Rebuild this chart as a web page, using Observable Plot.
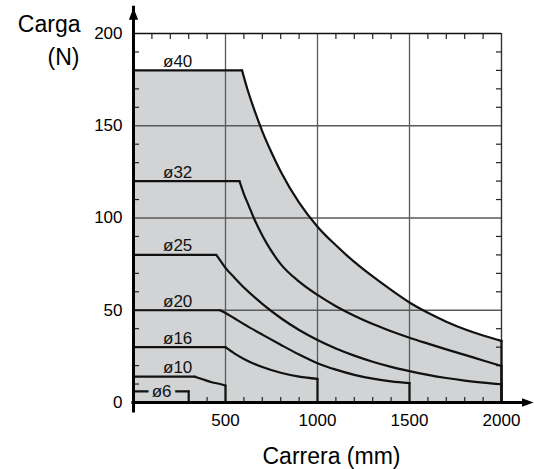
<!DOCTYPE html>
<html>
<head>
<meta charset="utf-8">
<script src="https://cdn.jsdelivr.net/npm/d3@7"></script>
<script src="https://cdn.jsdelivr.net/npm/@observablehq/plot@0.6"></script>
<style>
html,body{margin:0;padding:0;background:#fff;overflow:hidden}
</style>
</head>
<body>
<div id="chart"></div>
<script>
// Series names
const labels = ["ø40", "ø32", "ø25", "ø20", "ø16", "ø10", "ø6"];

// Carrera (mm) and Carga (N), per bore
// (first point = start of flat part, second = knee, last = vertical drop to 0)
const x40 = [0, 590, 620, 650, 700, 750, 800, 900, 1000, 1100, 1200, 1300, 1400, 1500, 1600, 1700, 1800, 1900, 2000, 2000];
const y40 = [180, 180, 169.5, 160.5, 147, 135.5, 125.2, 108.3, 95.3, 85.2, 76.2, 68.3, 61, 54.2, 48.6, 43.8, 39.7, 36.3, 33.4, 0];

const x32 = [0, 576, 600, 625, 654, 700, 750, 800, 900, 1000, 1100, 1200, 1300, 1400, 1500, 1600, 1700, 1800, 1900, 2000, 2000];
const y32 = [120, 120, 113, 107, 100, 90.5, 82, 75, 65.5, 58.3, 52.2, 47, 42.5, 38.6, 35.1, 31.9, 28.8, 25.8, 22.8, 19.8, 0];

const x25 = [0, 450, 475, 500, 550, 600, 700, 800, 900, 1000, 1100, 1200, 1300, 1400, 1500, 1600, 1700, 1800, 1900, 2000, 2000];
const y25 = [80, 80, 76.5, 73, 67.5, 62.3, 53.5, 45.8, 39.3, 33.9, 29.3, 25.4, 22.1, 19.3, 17, 15, 13.3, 11.9, 10.8, 9.9, 0];

const x20 = [0, 470, 500, 550, 600, 700, 800, 900, 1000, 1100, 1200, 1300, 1400, 1500, 1500];
const y20 = [50, 50, 48.5, 45.5, 42.5, 36.8, 31.3, 26, 21.3, 17.8, 15, 12.9, 11.4, 10.5, 0];

const x16 = [0, 500, 550, 600, 700, 800, 900, 1000, 1000];
const y16 = [30, 30, 26.5, 23.6, 19.2, 16.1, 14, 12.8, 0];

const x10 = [0, 333, 375, 425, 475, 500, 500];
const y10 = [14, 14, 12.6, 11, 9.9, 9.2, 0];

const x6 = [0, 300, 300];
const y6 = [6, 6, 0];

// Axis ticks and grid
const xTicks = [500, 1000, 1500, 2000];
const yTicks = [0, 50, 100, 150, 200];
const xGrid = [500, 1000, 1500];
const yGrid = [50, 100, 150];
const topMinor = [100, 200, 300, 400, 600, 700, 800, 900, 1100, 1200, 1300, 1400, 1600, 1700, 1800, 1900];
const bottomMinor = [400, 600, 700, 800, 900, 1100, 1200, 1300, 1400, 1600, 1700, 1800, 1900];
const sideMinor = [10, 20, 30, 40, 60, 70, 80, 90, 110, 120, 130, 140, 160, 170, 180, 190];
const xAxisEnd = [2174];
const yAxisEnd = [214];

const xs = [x40, x32, x25, x20, x16, x10, x6];
const ys = [y40, y32, y25, y20, y16, y10, y6];

// straight pieces: flat part and the final vertical drop
const straightRows = labels.flatMap((name, i) => {
  const X = xs[i], Y = ys[i], n = X.length;
  return [
    {g: name + "-flat", x: X[0], y: Y[0]}, {g: name + "-flat", x: X[1], y: Y[1]},
    {g: name + "-drop", x: X[n - 2], y: Y[n - 2]}, {g: name + "-drop", x: X[n - 1], y: Y[n - 1]}
  ];
});
// curved pieces: from knee to the last point before the drop
const curveRows = labels.flatMap((name, i) => {
  const X = xs[i], Y = ys[i], n = X.length;
  const out = [];
  for (let j = 1; j <= n - 2; ++j) out.push({g: name, x: X[j], y: Y[j]});
  return out.length > 1 ? out : [];
});
const flatEnv = [{x: x40[0], y: y40[0]}, {x: x40[1], y: y40[1]}];
const curveEnv = x40.slice(1, -1).map((x, j) => ({x, y: y40[j + 1]}));

const labelRows = labels.map((name, i) => ({name, level: ys[i][0]}));
const upperLabels = labelRows.filter(d => d.name !== "ø6");
const smallLabel = labelRows.filter(d => d.name === "ø6");

const FILL = "#d1d3d4";
const GRID = "#5a5a5a";

const tickDown = {draw(c) { c.moveTo(0, 0); c.lineTo(0, 5.5); }};
const tickUp = {draw(c) { c.moveTo(0, 0); c.lineTo(0, -5.5); }};
const tickRight = {draw(c) { c.moveTo(0, 0); c.lineTo(5.5, 0); }};
const tickLeft = {draw(c) { c.moveTo(0, 0); c.lineTo(-5.5, 0); }};
const arrowUp = {draw(c) { c.moveTo(0, 0); c.lineTo(4.6, 12); c.lineTo(-4.6, 12); c.closePath(); }};
const arrowRight = {draw(c) { c.moveTo(0, 0); c.lineTo(-11.5, -4.3); c.lineTo(-11.5, 4.3); c.closePath(); }};

const chart = Plot.plot({
  width: 534,
  height: 469,
  marginLeft: 133,
  marginRight: 33,
  marginTop: 33,
  marginBottom: 67,
  style: {fontFamily: "'Liberation Sans', Arial, Helvetica, sans-serif", fontSize: "17px", background: "#fff", color: "#000"},
  x: {domain: [0, 2000]},
  y: {domain: [0, 200]},
  marks: [
    Plot.areaY(flatEnv, {x: "x", y: "y", fill: FILL, shapeRendering: "crispEdges"}),
    Plot.areaY(curveEnv, {x: "x", y: "y", fill: FILL, curve: "monotone-x", shapeRendering: "crispEdges"}),
    Plot.ruleX(xGrid, {stroke: GRID, strokeWidth: 1.3}),
    Plot.ruleY(yGrid, {stroke: GRID, strokeWidth: 1.3}),
    Plot.ruleY([200], {stroke: "#111", strokeWidth: 1.5}),
    Plot.ruleX([2000], {stroke: "#333", strokeWidth: 1.4}),
    Plot.dot(topMinor, {x: d => d, y: 200, r: 3, symbol: tickDown, fill: "none", stroke: "#222", strokeWidth: 1.2}),
    Plot.dot(bottomMinor, {x: d => d, y: 0, r: 3, symbol: tickUp, fill: "none", stroke: "#222", strokeWidth: 1.2}),
    Plot.dot(sideMinor, {x: 0, y: d => d, r: 3, symbol: tickRight, fill: "none", stroke: "#222", strokeWidth: 1.2}),
    Plot.dot(sideMinor, {x: 2000, y: d => d, r: 3, symbol: tickLeft, fill: "none", stroke: "#222", strokeWidth: 1.2}),
    Plot.line(straightRows, {x: "x", y: "y", z: "g", stroke: "#111", strokeWidth: 2.2, strokeLinecap: "round"}),
    Plot.line(curveRows, {x: "x", y: "y", z: "g", stroke: "#111", strokeWidth: 2.2, curve: "monotone-x", strokeLinecap: "round"}),
    Plot.text(upperLabels, {x: 240, y: "level", text: "name", lineAnchor: "bottom", dy: -3.5, fontSize: 17, fill: "#111"}),
    Plot.text(smallLabel, {x: 153, y: "level", text: "name", lineAnchor: "middle", fontSize: 17, fill: "#111", stroke: FILL, strokeWidth: 9, paintOrder: "stroke"}),
    Plot.ruleX([0], {y1: 0, y2: yAxisEnd[0], insetTop: 9, stroke: "#000", strokeWidth: 3, strokeLinecap: "square"}),
    Plot.ruleY([0], {x1: 0, x2: xAxisEnd[0], insetRight: 9, stroke: "#000", strokeWidth: 3, strokeLinecap: "square"}),
    Plot.dot(yAxisEnd, {x: 0, y: d => d, r: 3, symbol: arrowUp, fill: "#000", stroke: "none"}),
    Plot.dot(xAxisEnd, {x: d => d, y: 0, r: 3, symbol: arrowRight, fill: "#000", stroke: "none"}),
    Plot.axisX({ticks: xTicks, tickSize: 0, tickPadding: 11, fontSize: 17, tickFormat: d => `${d}`, label: null}),
    Plot.axisY({ticks: yTicks, tickSize: 0, tickPadding: 11, fontSize: 17, tickFormat: d => `${d}`, label: null}),
    Plot.text(["Carga"], {text: d => d, frameAnchor: "top-left", textAnchor: "end", lineAnchor: "bottom", dx: -53, dy: -1.3, fontSize: 23}),
    Plot.text(["(N)"], {text: d => d, frameAnchor: "top-left", textAnchor: "end", lineAnchor: "bottom", dx: -54, dy: 31.3, fontSize: 23}),
    Plot.text(["Carrera (mm)"], {text: d => d, frameAnchor: "bottom-left", textAnchor: "start", lineAnchor: "bottom", dx: 129, dy: 61.5, fontSize: 23})
  ]
});
document.getElementById("chart").appendChild(chart);
</script>
</body>
</html>
